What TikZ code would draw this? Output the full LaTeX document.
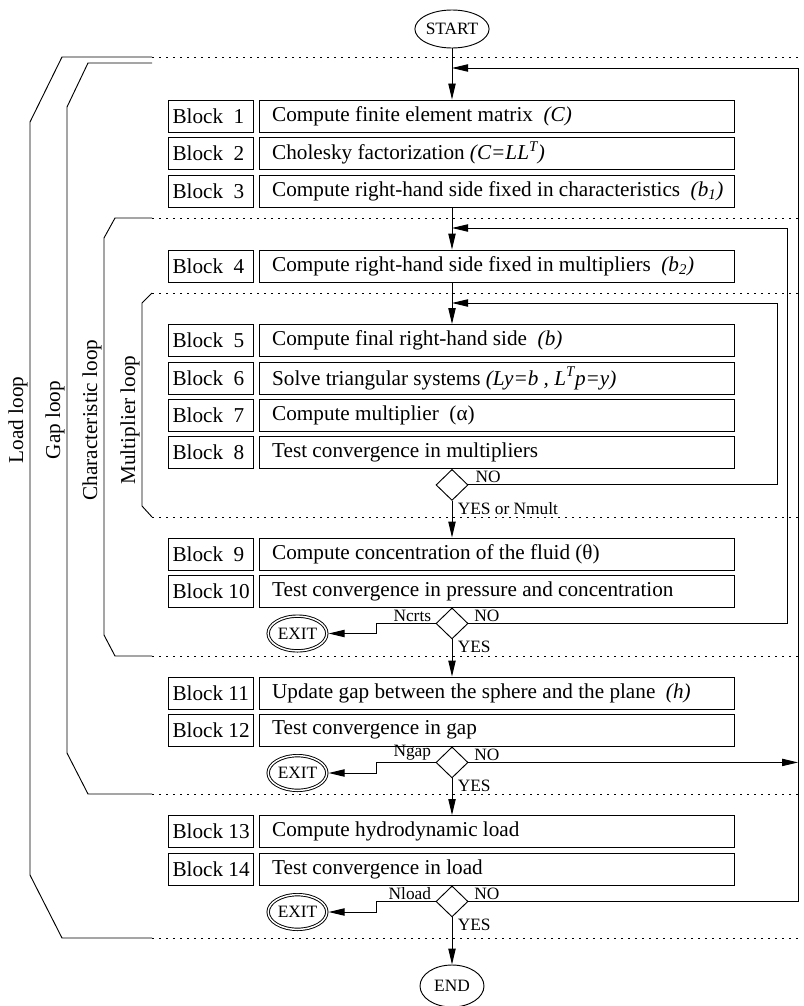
\documentclass[tikz,border=0pt]{standalone}
\usepackage{fontspec}
\setmainfont{Liberation Serif}
\usetikzlibrary{shapes.geometric,arrows.meta}

\newcommand{\bigtxt}{\fontsize{15.9pt}{19pt}\selectfont}
\newcommand{\smalltxt}{\fontsize{13pt}{15pt}\selectfont}
\newcommand{\lbltext}[1]{\makebox[57pt][l]{#1}}
\newcommand{\boxtext}[1]{\makebox[336.5pt][l]{#1}}

\tikzset{
  lblbox/.style={draw, rectangle, minimum width=63.75pt, minimum height=24pt, inner sep=0pt, font=\bigtxt},
  txtbox/.style={draw, rectangle, minimum width=356.25pt, minimum height=24pt, inner sep=0pt, font=\bigtxt},
  term/.style={draw, ellipse, minimum width=48pt, inner sep=0pt, font=\smalltxt},
  exitnode/.style={draw, ellipse, double, double distance=1.1pt, minimum width=44pt, minimum height=26pt, inner sep=0pt, font=\smalltxt},
  dec/.style={draw, diamond, minimum width=24pt, minimum height=23.25pt, inner sep=0pt, anchor=north},
  flow/.style={-{Triangle[length=12pt,width=5.5pt]}},
  lbl/.style={font=\smalltxt, inner sep=1pt},
  looplbl/.style={font=\bigtxt, rotate=90, anchor=south, inner sep=1.5pt},
  bound/.style={dash pattern=on 1.5pt off 3.75pt}
}

\begin{document}
\begin{tikzpicture}[x=0.75pt,y=0.75pt,yscale=-1,xscale=1,line width=0.7pt]
\useasboundingbox (0,0) rectangle (803,1006);

%Shape: Ellipse
\node[term, minimum height=28.5pt] (start) at (452,29) {START};
\node[term, minimum height=31.5pt] (end) at (452,986) {END};

%Shape: Rectangle
\node[lblbox] (b1) at (210.5,116) {\lbltext{Block~~1}};
\node[txtbox] (t1) at (496.5,116) {\boxtext{Compute finite element matrix~~\textit{(C)}}};
\node[lblbox] (b2) at (210.5,153) {\lbltext{Block~~2}};
\node[txtbox] (t2) at (496.5,153) {\boxtext{Cholesky factorization \textit{(C=LL\textsuperscript{T})}}};
\node[lblbox] (b3) at (210.5,191) {\lbltext{Block~~3}};
\node[txtbox] (t3) at (496.5,191) {\boxtext{Compute right-hand side fixed in characteristics~~\textit{(b\textsubscript{1})}}};
\node[lblbox] (b4) at (210.5,266) {\lbltext{Block~~4}};
\node[txtbox] (t4) at (496.5,266) {\boxtext{Compute right-hand side fixed in multipliers~~\textit{(b\textsubscript{2})}}};
\node[lblbox] (b5) at (210.5,340.5) {\lbltext{Block~~5}};
\node[txtbox] (t5) at (496.5,340.5) {\boxtext{Compute final right-hand side~~\textit{(b)}}};
\node[lblbox] (b6) at (210.5,378.5) {\lbltext{Block~~6}};
\node[txtbox] (t6) at (496.5,378.5) {\boxtext{Solve triangular systems \textit{(Ly=b , L\textsuperscript{T}p=y)}}};
\node[lblbox] (b7) at (210.5,415) {\lbltext{Block~~7}};
\node[txtbox] (t7) at (496.5,415) {\boxtext{Compute multiplier~~(α)}};
\node[lblbox] (b8) at (210.5,452.5) {\lbltext{Block~~8}};
\node[txtbox] (t8) at (496.5,452.5) {\boxtext{Test convergence in multipliers}};
\node[lblbox] (b9) at (210.5,554) {\lbltext{Block~~9}};
\node[txtbox] (t9) at (496.5,554) {\boxtext{Compute concentration of the fluid (θ)}};
\node[lblbox] (b10) at (210.5,591) {\lbltext{Block~10}};
\node[txtbox] (t10) at (496.5,591) {\boxtext{Test convergence in pressure and concentration}};
\node[lblbox] (b11) at (210.5,693) {\lbltext{Block~11}};
\node[txtbox] (t11) at (496.5,693) {\boxtext{Update gap between the sphere and the plane~~\textit{(h)}}};
\node[lblbox] (b12) at (210.5,730) {\lbltext{Block~12}};
\node[txtbox] (t12) at (496.5,730) {\boxtext{Test convergence in gap}};
\node[lblbox] (b13) at (210.5,831.5) {\lbltext{Block~13}};
\node[txtbox] (t13) at (496.5,831.5) {\boxtext{Compute hydrodynamic load}};
\node[lblbox] (b14) at (210.5,869) {\lbltext{Block~14}};
\node[txtbox] (t14) at (496.5,869) {\boxtext{Test convergence in load}};

%Shape: Diamond
\node[dec] (d8) at (t8.south -| start) {};
\node[dec] (d10) at (t10.south -| start) {};
\node[dec] (d12) at (t12.south -| start) {};
\node[dec] (d14) at (t14.south -| start) {};

%Shape: Ellipse
\node[exitnode] (x10) at (297.5,633.5) {EXIT};
\node[exitnode] (x12) at (297.5,773) {EXIT};
\node[exitnode] (x14) at (297.5,912) {EXIT};

%Straight Lines
\draw[bound] (152,57) -- (803,57);
\draw[bound] (152,218) -- (803,218);
\draw[bound] (152,293) -- (803,293);
\draw[bound] (152,517) -- (803,517);
\draw[bound] (152,656) -- (803,656);
\draw[bound] (152,794) -- (803,794);
\draw[bound] (152,938) -- (803,938);
% loop brackets
\draw (152,57) -- (62,57) -- (30,122) -- (30,875) -- (62,938) -- (152,938);
\draw (152,63) -- (88,63) -- (67,107) -- (67,753) -- (88,794) -- (152,794);
\draw (152,218) -- (115,218) -- (104,238) -- (104,635) -- (115,656) -- (152,656);
\draw (152,293) -- (142,303) -- (142,506) -- (152,517);

% Text Node
\draw (30,420) node [looplbl] (loadlbl) {Load loop};
\draw (67,420) node [looplbl] (gaplbl) {Gap loop};
\draw (104,420) node [looplbl] (charlbl) {Characteristic loop};
\draw (142,420) node [looplbl] (multlbl) {Multiplier loop};

%Straight Lines
\draw[flow] (start) -- (start |- t1.north);
\draw[flow] (t3.south -| start) -- (t4.north -| start);
\draw[flow] (t4.south -| start) -- (t5.north -| start);
\draw[flow] (d8) -- (t9.north -| start);
\draw[flow] (d10) -- (t11.north -| start);
\draw[flow] (d12) -- (t13.north -| start);
\draw[flow] (d14) -- (end);

% return lines
\coordinate (multret) at (777,303);
\coordinate (charret) at (787,228);
\coordinate (loadret) at (798,68);
\draw[flow] (d8.east) -| (multret) -- (multret -| start);
\draw[flow] (d10.east) -| (charret) -- (charret -| start);
\draw[flow] (d14.east) -| (loadret) -- (loadret -| start);
\draw[flow] (d12.east) -- (d12.east -| loadret);

% exit lines
\draw[flow, shorten >=1pt] (d10.west) -- ++(-59,0) |- (x10.east);
\draw[flow, shorten >=1pt] (d12.west) -- ++(-59,0) |- (x12.east);
\draw[flow, shorten >=1pt] (d14.west) -- ++(-59,0) |- (x14.east);

% Text Node
\draw (d8.east) node [lbl, anchor=south west, xshift=4pt] (no8) {NO};
\draw (d8.south) node [lbl, anchor=north west, xshift=3pt] (yes8) {YES or Nmult};
\draw (d10.east) node [lbl, anchor=south west, xshift=3pt] (no10) {NO};
\draw (d10.west) node [lbl, anchor=south east, xshift=-2pt] (ncrts) {Ncrts};
\draw (d10.south) node [lbl, anchor=north west, xshift=3pt] (yes10) {YES};
\draw (d12.east) node [lbl, anchor=south west, xshift=3pt] (no12) {NO};
\draw (d12.west) node [lbl, anchor=south east, xshift=-2pt] (ngap) {Ngap};
\draw (d12.south) node [lbl, anchor=north west, xshift=3pt] (yes12) {YES};
\draw (d14.east) node [lbl, anchor=south west, xshift=3pt] (no14) {NO};
\draw (d14.west) node [lbl, anchor=south east, xshift=-2pt] (nload) {Nload};
\draw (d14.south) node [lbl, anchor=north west, xshift=3pt] (yes14) {YES};

\end{tikzpicture}
\end{document}
